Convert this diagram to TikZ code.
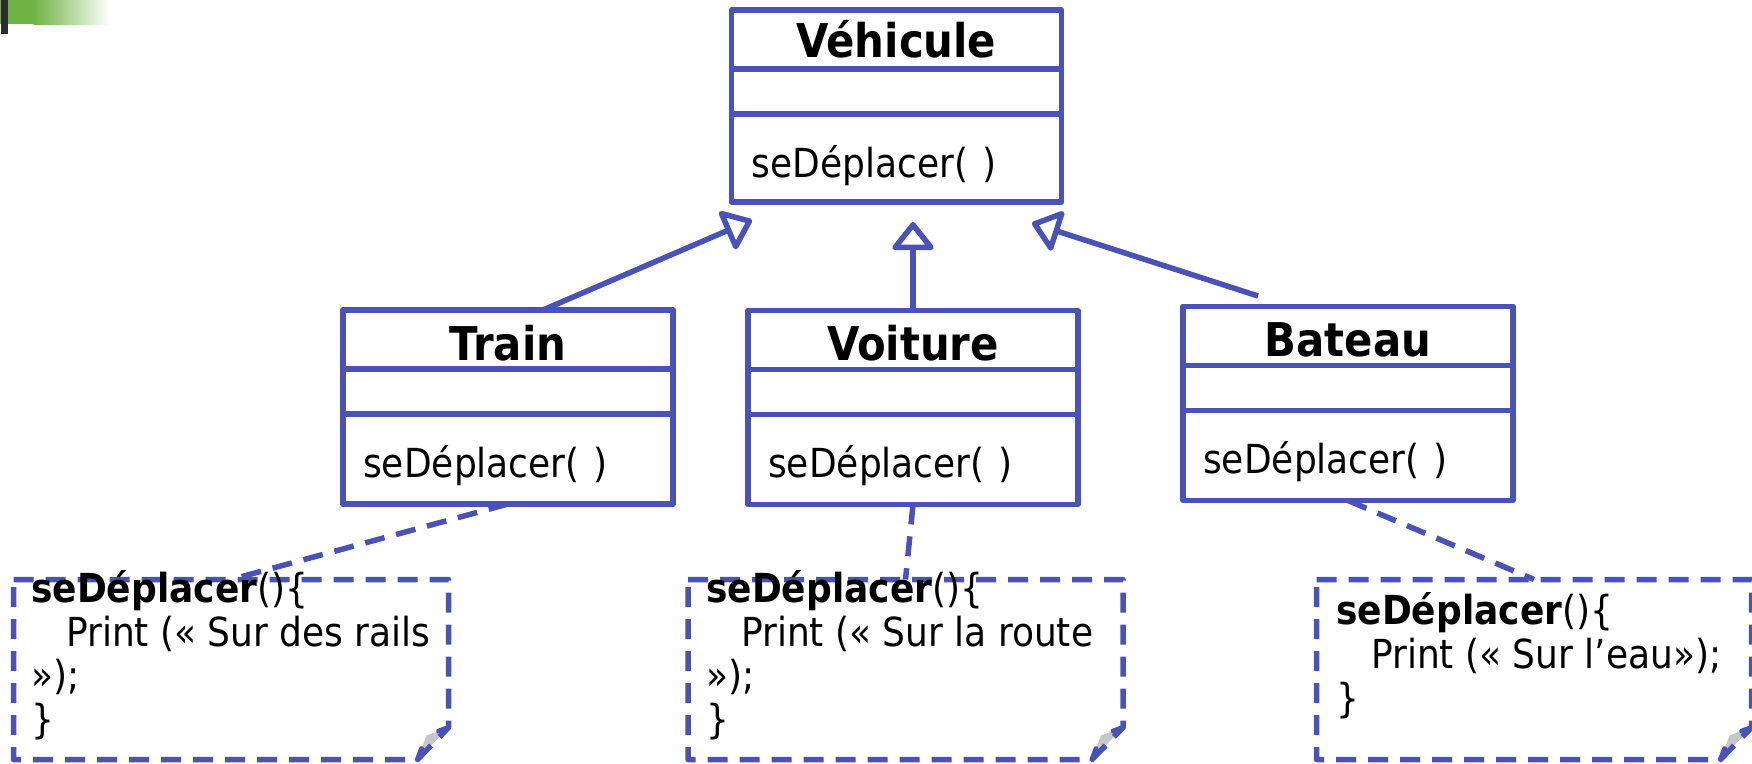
\documentclass[tikz,border=0pt]{standalone}
\usepackage{fontspec}
\setmainfont{DejaVu Sans Condensed}
\usetikzlibrary{arrows.meta,calc}
\definecolor{umlblue}{RGB}{75,82,183}
\definecolor{hdrgreen}{RGB}{112,178,68}
\definecolor{hdrdark}{RGB}{45,45,45}
\begin{document}
\begin{tikzpicture}[x=1pt,y=-1pt,
  cls/.style={draw=umlblue,line width=5.5pt,line join=round,minimum width=330pt,minimum height=194pt,inner sep=0pt,outer sep=0pt},
  divider/.style={draw=umlblue,line width=5.5pt},
  ctitle/.style={font=\fontsize{46.5pt}{52pt}\selectfont\bfseries,inner sep=0pt,anchor=base},
  cmeth/.style={font=\fontsize{40pt}{44pt}\selectfont,inner sep=0pt,anchor=base west},
  inherit/.style={draw=umlblue,line width=5.5pt,line join=round,-{Triangle[open,length=30pt,width=46pt,line join=round]}},
  notelink/.style={draw=umlblue,line width=5.5pt,dash pattern=on 20pt off 12pt},
  notebox/.style={minimum width=435pt,minimum height=180pt,inner sep=0pt,outer sep=0pt},
  noteline/.style={draw=umlblue,line width=5.5pt,dash pattern=on 20pt off 12pt,line join=round},
  notetext/.style={font=\fontsize{40pt}{44pt}\selectfont,inner sep=0pt,anchor=base west},
  foldfill/.style={fill=black!22},
  foldtick/.style={draw=umlblue,line width=5pt,line cap=round},
]
\useasboundingbox (0,0) rectangle (1752,763);

% header decoration
\fill[hdrgreen] (0,0) rectangle (34,24);
\shade[left color=hdrgreen,right color=white] (33.5,0) rectangle (110,24);
\fill[hdrdark] (1,0) rectangle (8,34);

% classes
\node[cls,minimum height=192pt] (veh) at (896.5,106) {};
\node[cls] (train) at (508,407) {};
\node[cls] (voit) at (913,407.5) {};
\node[cls] (bat) at (1348,403.5) {};

\foreach \c in {veh,train,voit,bat}{
  \draw[divider] ($(\c.north west)+(0,59)$) -- ($(\c.north east)+(0,59)$);
  \draw[divider] ($(\c.north west)+(0,104)$) -- ($(\c.north east)+(0,104)$);
}

\node[ctitle] (vehT) at ($(veh.north)+(0,47)$) {Véhicule};
\node[ctitle] (trainT) at ($(train.north)+(0,50)$) {Train};
\node[ctitle] (voitT) at ($(voit.north)+(0,50)$) {Voiture};
\node[ctitle] (batT) at ($(bat.north)+(0,50)$) {Bateau};

\node[cmeth] (vehM) at ($(veh.north west)+(20,167)$) {seDéplacer(\hspace{14pt})};
\node[cmeth] (trainM) at ($(train.north west)+(20,167)$) {seDéplacer(\hspace{14pt})};
\node[cmeth] (voitM) at ($(voit.north west)+(20,167)$) {seDéplacer(\hspace{14pt})};
\node[cmeth] (batM) at ($(bat.north west)+(20,167)$) {seDéplacer(\hspace{14pt})};

% inheritance
\coordinate (tipT) at (752,220);
\coordinate (tipV) at (913,222);
\coordinate (tipB) at (1032,223);
\coordinate (fromB) at (1258,296);
\draw[inherit] ($(train.north)+(35,0)$) -- (tipT);
\draw[inherit] (voit.north) -- (tipV);
\draw[inherit] (fromB) -- (tipB);

% notes
\node[notebox] (note1) at (231,669.5) {};
\node[notebox] (note2) at (905.5,669.5) {};
\node[notebox] (note3) at (1534,669.5) {};

\foreach \n in {note1,note2,note3}{
  \coordinate (\n A) at ($(\n.south east)+(0,-32)$);
  \coordinate (\n B) at ($(\n.south east)+(-31,0)$);
  \coordinate (\n C) at ($(\n.south east)+(-22,-24)$);
  \fill[foldfill] (\n A) -- (\n C) -- (\n B) -- cycle;
  \draw[noteline] (\n.north west) -- (\n.north east) -- (\n A) -- (\n B) -- (\n.south west) -- cycle;
  \draw[foldtick] (\n A) -- ($(\n A)!0.45!(\n C)$);
  \draw[foldtick] (\n B) -- ($(\n B)!0.45!(\n C)$);
}

\draw[notelink] (train.south) -- (note1.north);
\draw[notelink] (voit.south) -- (note2.north);
\draw[notelink] (bat.south) -- (note3.north);

% note texts
\node[notetext] (t1a) at (31,602) {\textbf{seDéplacer}()\{};
\node[notetext] (t1b) at (66,646) {Print (« Sur des rails};
\node[notetext] (t1c) at (31,689) {»);};
\node[notetext] (t1d) at (31,733) {\}};

\node[notetext] (t2a) at (706,602) {\textbf{seDéplacer}()\{};
\node[notetext] (t2b) at (741,646) {Print (« Sur la route};
\node[notetext] (t2c) at (706,689) {»);};
\node[notetext] (t2d) at (706,733) {\}};

\node[notetext] (t3a) at (1336,624) {\textbf{seDéplacer}()\{};
\node[notetext] (t3b) at (1371,668) {Print (« Sur l’eau»);};
\node[notetext] (t3c) at (1336,712) {\}};
\end{tikzpicture}
\end{document}
